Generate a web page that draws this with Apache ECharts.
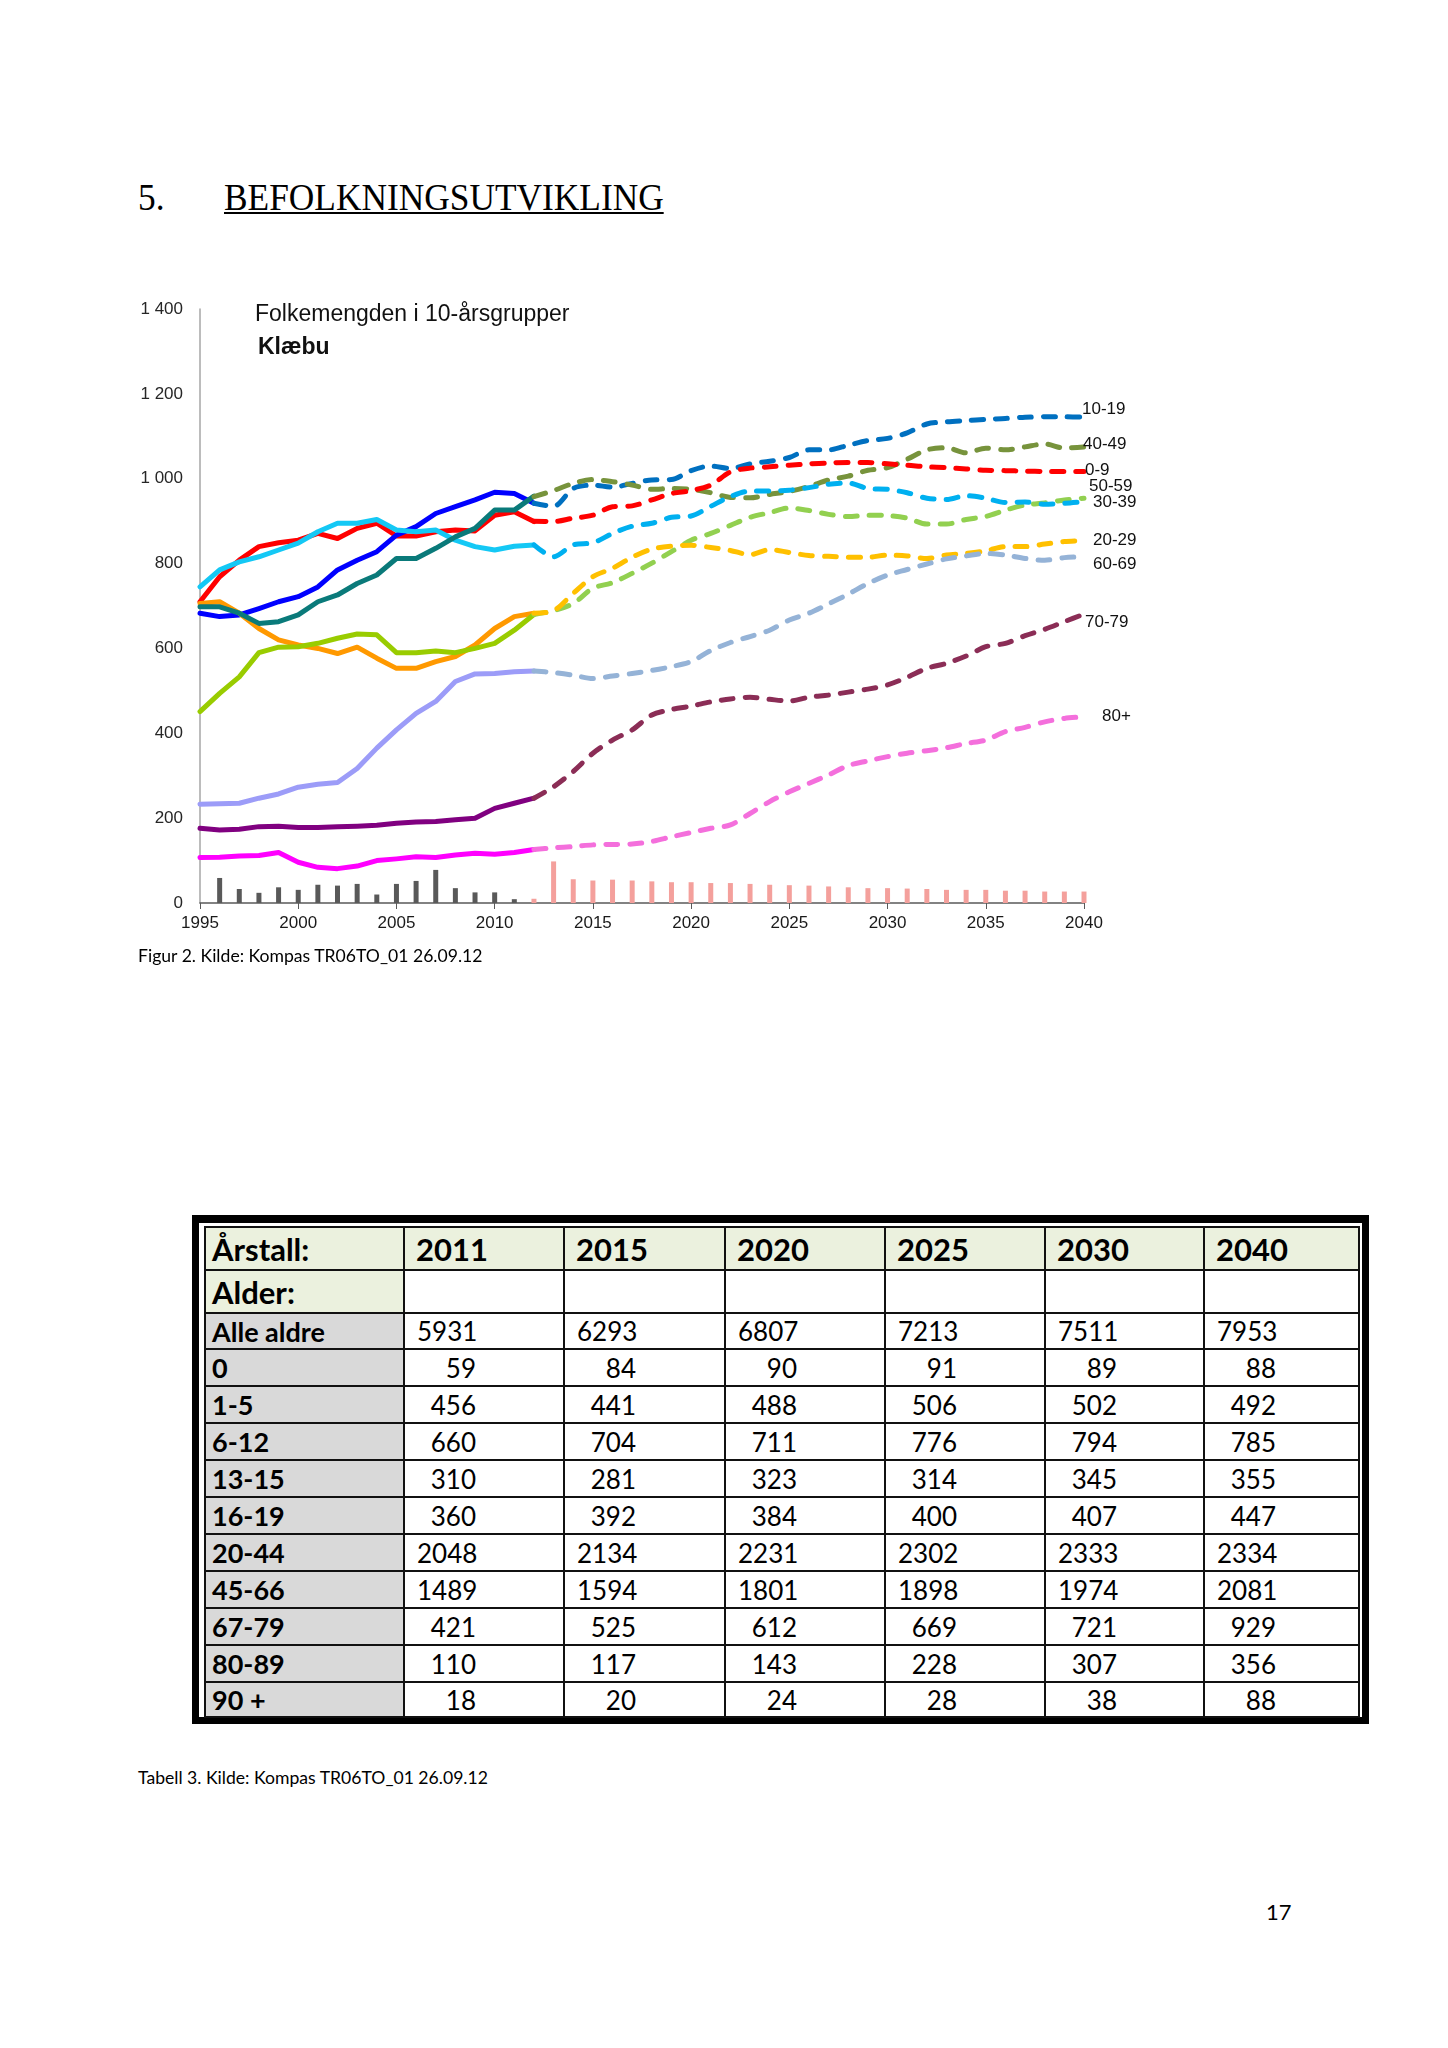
<!DOCTYPE html>
<html><head><meta charset="utf-8">
<script src="https://cdn.jsdelivr.net/npm/echarts@6/dist/echarts.min.js"></script>
<style>
html,body{margin:0;padding:0;background:#fff;}
body{width:1448px;height:2048px;position:relative;overflow:hidden;}
#chart{position:absolute;left:0;top:0;width:1448px;height:1000px;}
.t{position:absolute;white-space:nowrap;color:#000;}
.serif{font-family:'Liberation Serif',serif;font-size:37px;line-height:37px;transform:scaleX(0.955);transform-origin:0 0;}
.cal{font-family:Lato,sans-serif;}
#frame{position:absolute;left:192px;top:1215px;width:1177px;height:509px;box-sizing:border-box;border:7px solid #000;border-top-width:8px;}
#tbl{position:absolute;left:204px;top:1226px;width:1154px;border-collapse:collapse;table-layout:fixed;font-family:Lato,sans-serif;color:#000;}
#tbl td{border:2px solid #111;padding:0;vertical-align:middle;white-space:nowrap;overflow:hidden;}
#tbl td.hd{font-weight:bold;font-size:31px;padding-left:11px;background:#ebf1de;}
#tbl td.hd0{font-weight:bold;font-size:31px;padding-left:6px;background:#ebf1de;}
#tbl td.lab{font-weight:bold;font-size:27px;padding-left:6px;background:#d9d9d9;}
#tbl td.num{font-size:26px;padding-left:12px;}
#tbl td.num span{display:inline-block;width:59px;text-align:right;}
</style></head>
<body>
<div class="t serif" style="left:138px;top:179px;">5.</div>
<div class="t serif" style="left:224px;top:179px;text-decoration:underline;text-decoration-thickness:2px;text-underline-offset:2px;">BEFOLKNINGSUTVIKLING</div>
<div id="chart"></div>
<div class="t cal" style="left:138px;top:947px;font-size:17.6px;line-height:17px;">Figur 2. Kilde: Kompas TR06TO_01 26.09.12</div>
<div id="frame"></div>
<table id="tbl"></table>
<div class="t cal" style="left:138px;top:1769px;font-size:17.6px;line-height:17px;">Tabell 3. Kilde: Kompas TR06TO_01 26.09.12</div>
<div class="t cal" style="left:1266px;top:1901px;font-size:22px;line-height:22px;">17</div>
<script>
// ---------- chart data ----------
const years = [1995,1996,1997,1998,1999,2000,2001,2002,2003,2004,2005,2006,2007,2008,2009,2010,2011,2012,
  2013,2014,2015,2016,2017,2018,2019,2020,2021,2022,2023,2024,2025,2026,2027,2028,2029,2030,2031,2032,2033,2034,2035,2036,2037,2038,2039,2040];
const yTicks = [0,200,400,600,800,1000,1200,1400];

// historical (1995-2012)
const hist0_9   = [710,769,808,840,849,855,871,859,883,895,865,865,875,879,877,914,922,899];
const hist10_19 = [683,675,679,694,710,722,745,785,808,828,867,887,918,934,950,968,965,942];
const hist20_29 = [706,710,683,647,620,608,600,588,603,577,553,553,569,581,608,647,675,683];
const hist30_39 = [745,785,804,816,832,848,875,895,895,904,879,875,879,855,840,832,841,844];
const hist40_49 = [698,698,683,659,663,679,710,726,753,773,812,812,836,863,883,926,926,959];
const hist50_59 = [451,494,533,590,603,604,612,624,634,632,590,590,594,590,600,612,643,680];
const hist60_69 = [233,234,235,247,257,273,280,284,317,365,408,447,475,522,540,541,545,547];
const hist70_79 = [176,172,174,180,181,178,178,180,181,183,188,191,192,196,200,223,235,247];
const hist80    = [107,108,111,112,119,96,84,81,87,100,104,109,107,113,117,115,119,126];

// projections (2012-2040)
const proj0_9   = [900,899,907,914,934,936,950,965,972,985,1016,1025,1028,1032,1035,1037,1038,1038,1035,1032,1028,1026,1023,1020,1019,1018,1017,1017,1017];
const proj10_19 = [942,935,977,985,980,989,997,998,1019,1030,1024,1035,1041,1050,1068,1068,1079,1090,1095,1108,1129,1134,1137,1140,1142,1145,1146,1146,1145];
const proj20_29 = [683,689,730,769,789,815,834,841,843,838,831,821,833,826,819,817,815,815,820,818,812,820,824,830,840,840,846,852,854];
const proj30_39 = [844,816,844,849,871,888,895,909,912,935,958,971,971,973,979,987,990,977,975,967,954,951,960,954,944,945,940,942,946];
const proj40_49 = [958,972,989,998,993,985,975,977,975,967,956,955,963,970,982,997,1006,1020,1026,1046,1068,1073,1061,1072,1068,1075,1082,1072,1075];
const proj50_59 = [680,689,706,742,755,777,801,828,855,871,890,909,920,931,925,916,911,914,913,907,893,893,904,911,926,938,943,950,954];
const proj60_69 = [547,543,537,529,535,541,548,557,569,595,614,628,643,667,683,705,728,753,773,786,799,811,818,824,820,812,808,814,816];
const proj70_79 = [247,274,310,353,384,408,443,456,464,474,481,485,480,476,485,490,497,504,514,532,553,565,582,604,612,630,645,663,681];
const proj80    = [126,130,133,137,138,139,145,156,166,176,184,211,239,262,282,302,324,335,345,353,359,366,376,384,404,414,427,435,439];

// bars (yearly change) : historical 1995-2011, projected 2012-2040
const barHist = [null,59,33,24,37,31,43,41,45,20,45,52,78,35,25,25,9];
const barProj = [10,98,56,53,55,53,51,49,49,47,47,45,43,42,41,39,37,35,35,34,33,31,31,31,29,29,27,27,27];

// ---------- table data ----------
const tableYears = [2011,2015,2020,2025,2030,2040];
const ageGroups = ['Alle aldre','0','1-5','6-12','13-15','16-19','20-44','45-66','67-79','80-89','90 +'];
const tAll   = [5931,6293,6807,7213,7511,7953];
const t0     = [59,84,90,91,89,88];
const t1_5   = [456,441,488,506,502,492];
const t6_12  = [660,704,711,776,794,785];
const t13_15 = [310,281,323,314,345,355];
const t16_19 = [360,392,384,400,407,447];
const t20_44 = [2048,2134,2231,2302,2333,2334];
const t45_66 = [1489,1594,1801,1898,1974,2081];
const t67_79 = [421,525,612,669,721,929];
const t80_89 = [110,117,143,228,307,356];
const t90    = [18,20,24,28,38,88];
const tableRows = [tAll,t0,t1_5,t6_12,t13_15,t16_19,t20_44,t45_66,t67_79,t80_89,t90];

// ---------- build table ----------
(function(){
  const tbl = document.getElementById('tbl');
  const widths = [199,160,161,160,160,159,155];
  let h = '<colgroup>' + widths.map(w=>'<col style="width:'+w+'px">').join('') + '</colgroup>';
  h += '<tr style="height:43px"><td class="hd0">Årstall:</td>' + tableYears.map(y=>'<td class="hd">'+y+'</td>').join('') + '</tr>';
  h += '<tr style="height:43px"><td class="hd0">Alder:</td>' + tableYears.map(()=>'<td></td>').join('') + '</tr>';
  ageGroups.forEach((g,i)=>{
    const rh = i===0 ? 36 : (i===ageGroups.length-1 ? 35 : 37);
    h += '<tr style="height:'+rh+'px"><td class="lab">'+g+'</td>' + tableRows[i].map(v=>'<td class="num"><span>'+v+'</span></td>').join('') + '</tr>';
  });
  tbl.innerHTML = h;
})();

// ---------- chart ----------
function padHist(a){ return years.map((y,i)=> i < a.length ? a[i] : null); }
function padProj(a){ const off = years.length - a.length; return years.map((y,i)=> i >= off ? a[i-off] : null); }

const histStyle = [
  {name:'h0-9',  data:hist0_9,  color:'#ff0000'},
  {name:'h10-19',data:hist10_19,color:'#0000ff'},
  {name:'h20-29',data:hist20_29,color:'#ff9900'},
  {name:'h30-39',data:hist30_39,color:'#14c8f5'},
  {name:'h40-49',data:hist40_49,color:'#0a7a7a'},
  {name:'h50-59',data:hist50_59,color:'#99cc00'},
  {name:'h60-69',data:hist60_69,color:'#9c9cf8'},
  {name:'h70-79',data:hist70_79,color:'#800080'},
  {name:'h80+',  data:hist80,   color:'#ff00ff'}
];
const projStyle = [
  {name:'10-19',data:proj10_19,color:'#0070c0',off:[-2,-8]},
  {name:'40-49',data:proj40_49,color:'#77933c',off:[-1,-3]},
  {name:'0-9',  data:proj0_9,  color:'#ff0000',off:[1,-1]},
  {name:'50-59',data:proj50_59,color:'#92d050',off:[5,-12]},
  {name:'30-39',data:proj30_39,color:'#00b0f0',off:[9,1]},
  {name:'20-29',data:proj20_29,color:'#ffc000',off:[9,0]},
  {name:'60-69',data:proj60_69,color:'#95b3d7',off:[9,8]},
  {name:'70-79',data:proj70_79,color:'#8b2d56',off:[1,8]},
  {name:'80+',  data:proj80,   color:'#f46fdc',off:[18,0]}
];

const series = [
  {type:'bar', name:'barHist', data:padHist(barHist), barWidth:5, barGap:'-100%', itemStyle:{color:'#595959'}, z:1},
  {type:'bar', name:'barProj', data:padProj(barProj), barWidth:5, barGap:'-100%', itemStyle:{color:'#f4a09c'}, z:1}
];
histStyle.forEach(s=>series.push({
  type:'line', name:s.name, data:padHist(s.data), symbol:'none', smooth:false, z:3,
  lineStyle:{width:5, color:s.color, cap:'round', join:'round'}
}));
projStyle.forEach(s=>series.push({
  type:'line', name:s.name, data:padProj(s.data), symbol:'none', smooth:0.3, z:4,
  lineStyle:{width:5, color:s.color, type:[12,12], cap:'round', join:'round'},
  endLabel:{show:true, formatter:s.name, distance:0, offset:s.off, align:'left', verticalAlign:'middle',
    fontSize:17, fontFamily:'Liberation Sans', color:'#111'}
}));

const chart = echarts.init(document.getElementById('chart'), null, {renderer:'canvas'});
chart.setOption({
  animation:false,
  backgroundColor:'transparent',
  title:[
    {text:'Folkemengden i 10-årsgrupper', left:255, top:303, padding:0,
     textStyle:{fontSize:23, fontWeight:'normal', fontFamily:'Liberation Sans', color:'#111'}},
    {text:'Klæbu', left:258, top:336, padding:0,
     textStyle:{fontSize:23, fontWeight:'bold', fontFamily:'Liberation Sans', color:'#111'}}
  ],
  grid:{left:200, right:364, top:309, bottom:97},
  xAxis:{type:'category', data:years, boundaryGap:false,
    axisLine:{lineStyle:{color:'#595959', width:1.5}},
    axisTick:{show:true, interval:4, length:6, lineStyle:{color:'#595959'}},
    axisLabel:{interval:4, fontSize:17, fontFamily:'Liberation Sans', color:'#1a1a1a', margin:12},
    splitLine:{show:false}},
  yAxis:{type:'value', min:yTicks[0], max:yTicks[yTicks.length-1], interval:200,
    axisLine:{show:true, lineStyle:{color:'#a6a6a6', width:1.5}},
    axisTick:{show:false},
    axisLabel:{fontSize:17, fontFamily:'Liberation Sans', color:'#262626', margin:17,
      formatter:v=>String(v).replace(/\B(?=(\d{3})+(?!\d))/g,' ')},
    splitLine:{show:false}},
  series:series
});
</script>
</body></html>
